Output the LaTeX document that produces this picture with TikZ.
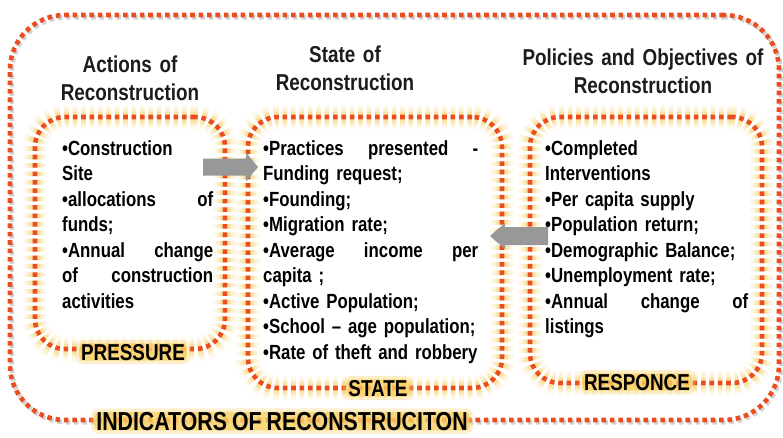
\documentclass[tikz,border=0pt]{standalone}
\usepackage{fontspec}
\setmainfont{Liberation Sans}
\newfontfamily\narrow[FakeStretch=0.82,WordSpace=0.85]{Liberation Sans}
\definecolor{dotred}{RGB}{234,78,32}
\definecolor{glowy}{RGB}{249,208,100}
\definecolor{arrowgray}{RGB}{152,152,152}
\definecolor{headblack}{RGB}{28,28,28}
\tikzset{
  dots/.style={draw=dotred, line width=4.6pt, dash pattern=on 4.6pt off 3.8pt},
  box/.style={rectangle, rounded corners=30pt, inner sep=0pt,
    preaction={fill=white},
    preaction={draw=glowy, line width=24pt, opacity=.12},
    preaction={draw=glowy, line width=17pt, opacity=.22},
    preaction={draw=glowy, line width=11pt, opacity=.4},
    dots},
  outerbox/.style={rectangle, rounded corners=55pt, inner sep=0pt,
    preaction={draw=gray, line width=4.6pt, dash pattern=on 4.6pt off 3.8pt, opacity=.35, transform canvas={shift={(1.8pt,-2.2pt)}}},
    dots},
  head/.style={font=\narrow\bfseries\fontsize{23}{28}\selectfont, text=headblack,
    align=center, text width=270pt, inner sep=0pt, anchor=base},
  body/.style={font=\narrow\bfseries\fontsize{20.5}{25.5}\selectfont,
    align=left, inner sep=0pt, anchor=base west},
  lbl/.style={font=\narrow\bfseries\fontsize{23}{23}\selectfont, anchor=base,
    inner xsep=2pt, inner ysep=0.5pt, rounded corners=4pt,
    preaction={draw=glowy, line width=7pt, opacity=.3},
    preaction={fill=glowy, opacity=.8}},
  blockarrow/.style={fill=arrowgray, draw=none}
}
\begin{document}
\begin{tikzpicture}[x=1pt, y=-1pt]
\useasboundingbox (0,0) rectangle (783,437);
\fill[white] (0,0) rectangle (783,437);

% outer frame
\node[outerbox, minimum width=769pt, minimum height=405pt] (outer) at (394.5,217.5) {};

% inner boxes
\node[box, minimum width=190pt, minimum height=232pt] (b1) at (130,233) {};
\node[box, minimum width=254pt, minimum height=271pt] (b2) at (375,252.5) {};
\node[box, minimum width=232pt, minimum height=266pt] (b3) at (646,250) {};

% headings
\node[head] (h1) at (130,72) {Actions of\\Reconstruction};
\node[head] (h2) at (345,62) {State of\\Reconstruction};
\node[head] (h3) at (643,65) {Policies and Objectives of\\Reconstruction};

% body texts
\node[body, text width=151pt] (t1) at (62,155) {%
\mbox{•Construction}\\
Site\\
•allocations\hfill of\\
funds;\\
•Annual\hfill change\\
of\hfill construction\\
activities};

\node[body, text width=215pt] (t2) at (263,155) {%
•Practices\hfill presented\hfill -\\
\mbox{Funding request;}\\
•Founding;\\
\mbox{•Migration rate;}\\
•Average\hfill income\hfill per\\
capita ;\\
\mbox{•Active Population;}\\
\mbox{•School – age population;}\\
\mbox{•Rate of theft and robbery}};

\node[body, text width=203pt] (t3) at (545,155) {%
•Completed\\
Interventions\\
\mbox{•Per capita supply}\\
\mbox{•Population return;}\\
\mbox{•Demographic Balance;}\\
\mbox{•Unemployment rate;}\\
•Annual\hfill change\hfill of\\
listings};

% block arrows
\coordinate (a1s) at (203,167);
\coordinate (a1t) at (258,167);
\fill[blockarrow] ([yshift=-8.5pt]a1s) -- ([xshift=-12pt,yshift=-8.5pt]a1t) -- ([xshift=-12pt,yshift=-14.5pt]a1t)
  -- (a1t) -- ([xshift=-12pt,yshift=14.5pt]a1t) -- ([xshift=-12pt,yshift=8.5pt]a1t) -- ([yshift=8.5pt]a1s) -- cycle;
\coordinate (a2s) at (548,236);
\coordinate (a2t) at (490,236);
\fill[blockarrow] ([yshift=-9pt]a2s) -- ([xshift=15pt,yshift=-9pt]a2t) -- ([xshift=15pt,yshift=-13pt]a2t)
  -- (a2t) -- ([xshift=15pt,yshift=13pt]a2t) -- ([xshift=15pt,yshift=9pt]a2t) -- ([yshift=9pt]a2s) -- cycle;

% labels
\node[lbl] (l1) at (133,360) {PRESSURE};
\node[lbl] (l2) at (378,396) {STATE};
\node[lbl] (l3) at (637,390) {RESPONCE};
\node[lbl, inner ysep=0pt, font=\narrow\bfseries\fontsize{26}{26}\selectfont] (l4) at (282,430) {INDICATORS OF RECONSTRUCITON};
\end{tikzpicture}
\end{document}
